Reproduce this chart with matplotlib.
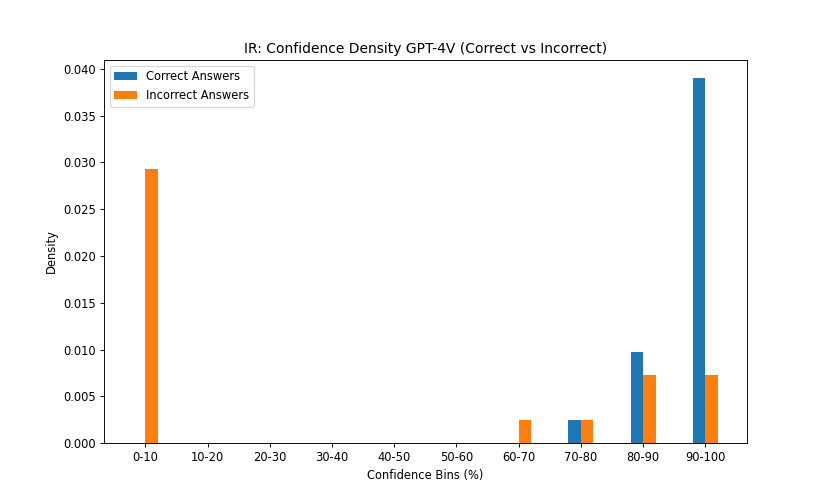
import matplotlib
matplotlib.use("Agg")
import matplotlib.pyplot as plt
import numpy as np

bins = ["0-10", "10-20", "20-30", "30-40", "40-50", "50-60", "60-70", "70-80", "80-90", "90-100"]
correct = [0, 0, 0, 0, 0, 0, 0, 0.002439, 0.009756, 0.039024]
incorrect = [0.029268, 0, 0, 0, 0, 0, 0.002439, 0.002439, 0.007317, 0.007317]

fig, ax = plt.subplots(figsize=(10, 6), dpi=83)
x = np.arange(len(bins))
w = 0.2
ax.bar(x - w / 2, correct, w, label="Correct Answers", color="#1f77b4")
ax.bar(x + w / 2, incorrect, w, label="Incorrect Answers", color="#ff7f0e")
ax.set_xticks(x)
ax.set_xticklabels(bins)
ax.set_xlabel("Confidence Bins (%)")
ax.set_ylabel("Density")
ax.set_title("IR: Confidence Density GPT-4V (Correct vs Incorrect)")
ax.legend(loc="upper left")
fig.savefig("out.png", dpi=83)
